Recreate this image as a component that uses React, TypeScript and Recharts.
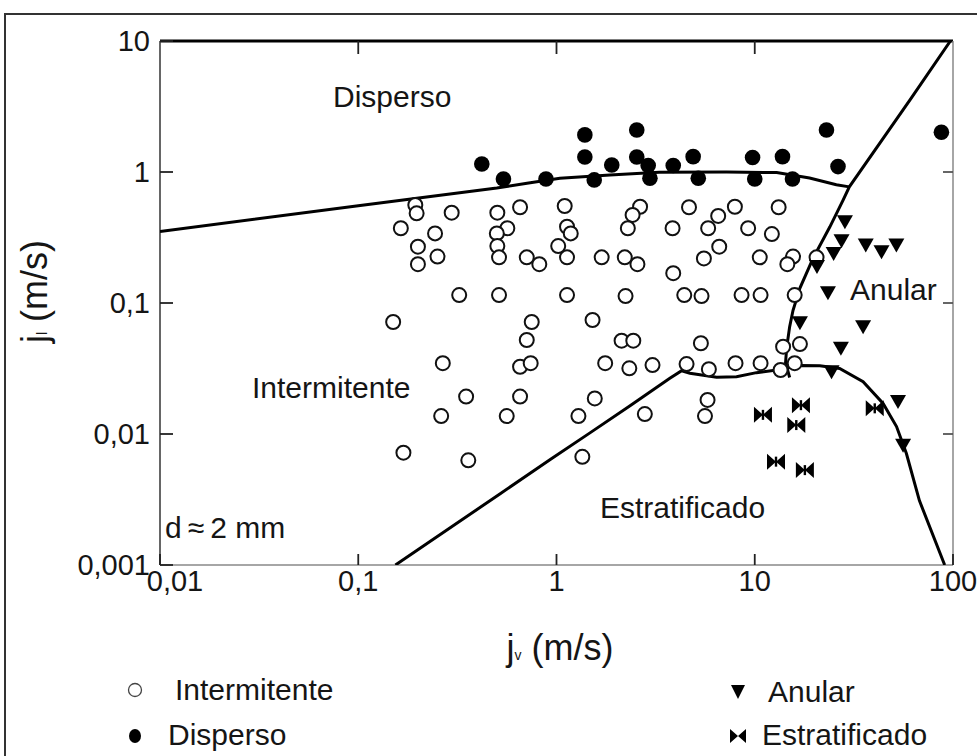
import React from "react";
import { ScatterChart, Scatter, XAxis, YAxis } from "recharts";

type Pt = [number, number];

// j_v (m/s), j_l (m/s)
const xTicks = [0.01, 0.1, 1, 10, 100];
const yTicks = [0.001, 0.01, 0.1, 1, 10];

const intermitente: Pt[] = [
  [0.194, 0.56], [0.197, 0.484], [0.296, 0.489], [0.164, 0.372], [0.244, 0.34],
  [0.2, 0.269], [0.251, 0.226], [0.2, 0.198], [0.503, 0.489], [0.655, 0.538],
  [0.565, 0.372], [0.5, 0.34], [0.503, 0.272], [0.513, 0.223], [0.708, 0.223],
  [0.819, 0.198], [1.1, 0.55], [1.13, 0.382], [1.18, 0.34], [1.02, 0.272],
  [1.13, 0.223], [0.323, 0.115], [0.513, 0.115], [1.13, 0.115], [0.15, 0.0716],
  [0.75, 0.0716], [1.52, 0.0742], [2.64, 0.543], [2.42, 0.47], [2.29, 0.372],
  [1.69, 0.223], [2.21, 0.223], [2.56, 0.198], [3.85, 0.372], [4.66, 0.538],
  [6.54, 0.462], [5.82, 0.372], [7.94, 0.543], [9.26, 0.372], [12.2, 0.336],
  [13.2, 0.538], [6.62, 0.269], [5.54, 0.219], [3.88, 0.169], [10.6, 0.223],
  [15.6, 0.226], [14.6, 0.198], [20.5, 0.223], [2.23, 0.113], [4.41, 0.115],
  [5.39, 0.113], [8.58, 0.115], [10.7, 0.115], [15.9, 0.115], [0.267, 0.0347],
  [0.708, 0.0522], [0.655, 0.0326], [0.741, 0.0347], [0.35, 0.0193], [0.655, 0.0193],
  [0.262, 0.0137], [0.561, 0.0137], [0.169, 0.0072], [0.359, 0.0063], [1.29, 0.0137],
  [1.35, 0.0067], [2.13, 0.0516], [2.44, 0.0516], [1.76, 0.0347], [2.33, 0.0317],
  [3.05, 0.0336], [1.56, 0.0187], [2.79, 0.0142], [5.35, 0.0493], [4.53, 0.0342],
  [5.87, 0.0312], [8.0, 0.0347], [10.7, 0.0347], [13.5, 0.0308], [13.9, 0.0464],
  [16.9, 0.0486], [15.9, 0.0347], [5.78, 0.0182], [5.61, 0.0137],
];

const disperso: Pt[] = [
  [0.42, 1.15], [0.54, 0.885], [0.885, 0.885], [1.39, 1.92], [1.39, 1.3],
  [1.55, 0.87], [1.9, 1.13], [2.54, 2.09], [2.54, 1.3], [2.9, 1.12],
  [2.96, 0.895], [3.88, 1.12], [4.89, 1.31], [5.19, 0.895], [9.75, 1.29],
  [10.0, 0.885], [13.8, 1.31], [15.5, 0.885], [23.0, 2.09], [26.3, 1.1],
  [87.4, 2.01],
];

const anular: Pt[] = [
  [28.5, 0.418], [27.4, 0.299], [36.3, 0.277], [43.6, 0.246], [51.8, 0.277],
  [25.0, 0.239], [20.6, 0.19], [23.4, 0.12], [16.9, 0.0707], [35.2, 0.066],
  [27.2, 0.0451], [24.4, 0.0299], [52.8, 0.0177], [56.0, 0.0082],
];

const estratificado: Pt[] = [
  [11.0, 0.014], [17.1, 0.0166], [16.2, 0.0117], [12.8, 0.00615], [17.9, 0.0053],
  [40.3, 0.0157],
];

// transition boundaries
const upperBoundary: Pt[] = [
  [0.01, 0.352], [0.1, 0.552], [0.5, 0.756], [0.71, 0.82], [1.04, 0.895],
  [1.86, 0.95], [3.3, 0.995], [7.2, 1.0], [12.9, 0.99], [18.9, 0.9],
  [25.8, 0.8], [30, 0.77],
];

const annularBoundary: Pt[] = [
  [97, 10], [60.7, 3.55], [30, 0.77], [27.9, 0.61], [23.9, 0.38], [19.7, 0.22],
  [16.9, 0.13], [15.6, 0.088], [15.0, 0.066], [14.5, 0.046], [14.3, 0.035],
  [15.0, 0.027],
];

const stratifiedBoundary: Pt[] = [
  [0.154, 0.001], [0.52, 0.0035], [0.93, 0.0064], [1.475, 0.0102], [2.35, 0.0164],
  [3.73, 0.0266], [4.28, 0.0304], [4.71, 0.0291], [6.42, 0.0271], [8.09, 0.0274],
  [10.2, 0.0294], [12.9, 0.0308], [16.9, 0.0333], [21.3, 0.0332], [26.8, 0.0316],
  [35.2, 0.0251], [44.4, 0.0171], [51.9, 0.0114], [58.2, 0.0071], [67.7, 0.0031],
  [90.8, 0.001],
];

const toRows = (pts: Pt[]) => pts.map(([jv, jl]) => ({ jv, jl }));

const FONT = "'Liberation Sans', Arial, Helvetica, sans-serif";
const INK = "#151515";
const TICK_FS = 29;
const fmt = (v: number) => String(v).replace(".", ",");

// ticks point inward, so draw them ourselves
const BottomTick = (p: any) => {
  const axisY = p.y - 5;
  const shift = p.payload.value === 0.01 ? 15 : 0; // first label sits right of the corner
  return (
    <g>
      <line x1={p.x} y1={axisY} x2={p.x} y2={axisY - 11} stroke="#222" strokeWidth={1.8} />
      <text x={p.x + shift} y={p.y} dy="0.74em" textAnchor="middle" fontSize={TICK_FS} fontFamily={FONT} fill={INK}>
        {fmt(p.payload.value)}
      </text>
    </g>
  );
};

const LeftTick = (p: any) => {
  const axisX = p.x + 10;
  return (
    <g>
      <line x1={axisX} y1={p.y} x2={axisX + 13} y2={p.y} stroke="#222" strokeWidth={1.8} />
      <text x={p.x} y={p.y} dy="0.36em" textAnchor="end" fontSize={TICK_FS} fontFamily={FONT} fill={INK}>
        {fmt(p.payload.value)}
      </text>
    </g>
  );
};

const TopTick = (p: any) => {
  const axisY = p.y + 2;
  return <line x1={p.x} y1={axisY} x2={p.x} y2={axisY + 13} stroke="#222" strokeWidth={1.8} />;
};

const RightTick = (p: any) => {
  const axisX = p.x - 2;
  return <line x1={axisX} y1={p.y} x2={axisX - 10} y2={p.y} stroke="#555" strokeWidth={1.8} />;
};

const OpenCircle = (p: any) => (
  <circle cx={p.cx} cy={p.cy} r={7} fill="#fff" stroke="#111" strokeWidth={2} />
);
const FilledCircle = (p: any) => <circle cx={p.cx} cy={p.cy} r={7.8} fill="#000" />;
const DownTriangle = (p: any) => (
  <path d={`M${p.cx - 8},${p.cy - 6.5} L${p.cx + 8},${p.cy - 6.5} L${p.cx},${p.cy + 7.5} Z`} fill="#000" />
);
const Bowtie = (p: any) => {
  const { cx, cy } = p;
  return (
    <g fill="#000">
      <path d={`M${cx - 9},${cy - 8} L${cx},${cy} L${cx - 9},${cy + 8} Z M${cx + 9},${cy - 8} L${cx},${cy} L${cx + 9},${cy + 8} Z`} />
      <rect x={cx - 1.2} y={cy - 5} width={2.4} height={10} />
    </g>
  );
};
const NoDot = () => <g />;

function Note({ x, cy, size = 30, children }: { x: number; cy: number; size?: number; children: React.ReactNode }) {
  return (
    <div
      style={{
        position: "absolute",
        left: x,
        top: cy - size * 0.49,
        fontSize: size,
        lineHeight: `${size}px`,
        whiteSpace: "nowrap",
        fontFamily: FONT,
        color: INK,
      }}
    >
      {children}
    </div>
  );
}

const lineStyle = { stroke: "#000", strokeWidth: 3 };

export default function App() {
  return (
    <div
      style={{
        position: "absolute",
        left: 0,
        top: 0,
        width: 977,
        height: 756,
        overflow: "hidden",
        background: "#fff",
      }}
    >
      <div
        style={{
          position: "absolute",
          left: 4,
          top: 13,
          width: 1100,
          height: 900,
          border: "2px solid #333",
        }}
      />
      <div style={{ position: "absolute", left: 0, top: 0 }}>
        <ScatterChart width={977} height={756} margin={{ top: 40, right: 23, bottom: 151, left: 100 }}>
          <XAxis
            xAxisId="b"
            dataKey="jv"
            type="number"
            scale="log"
            domain={[0.01, 100]}
            ticks={xTicks}
            interval={0}
            allowDataOverflow
            height={40}
            tickSize={0}
            tickMargin={5}
            tickLine={false}
            axisLine={{ stroke: "#888", strokeWidth: 1.5 }}
            tick={BottomTick}
          />
          <XAxis
            xAxisId="t"
            orientation="top"
            dataKey="jv"
            type="number"
            scale="log"
            domain={[0.01, 100]}
            ticks={[0.1, 1, 10]}
            interval={0}
            allowDataOverflow
            height={1}
            tickSize={0}
            tickMargin={2}
            tickLine={false}
            axisLine={{ stroke: "#000", strokeWidth: 3 }}
            tick={TopTick}
          />
          <YAxis
            yAxisId="l"
            dataKey="jl"
            type="number"
            scale="log"
            domain={[0.001, 10]}
            ticks={yTicks}
            interval={0}
            allowDataOverflow
            width={60}
            tickSize={0}
            tickMargin={10}
            tickLine={false}
            axisLine={{ stroke: "#333", strokeWidth: 1.5 }}
            tick={LeftTick}
          />
          <YAxis
            yAxisId="r"
            orientation="right"
            dataKey="jl"
            type="number"
            scale="log"
            domain={[0.001, 10]}
            ticks={[0.01, 0.1, 1]}
            interval={0}
            allowDataOverflow
            width={1}
            tickSize={0}
            tickMargin={2}
            tickLine={false}
            axisLine={{ stroke: "#888", strokeWidth: 1.5 }}
            tick={RightTick}
          />

          {/* invisible series so the mirror axes (top / right) get a scale */}
          <Scatter xAxisId="t" yAxisId="r" data={toRows(upperBoundary)} shape={NoDot} legendType="none" isAnimationActive={false} />

          <Scatter xAxisId="b" yAxisId="l" data={toRows(upperBoundary)} fill="#000" line={lineStyle} shape={NoDot} isAnimationActive={false} />
          <Scatter xAxisId="b" yAxisId="l" data={toRows(annularBoundary)} fill="#000" line={lineStyle} shape={NoDot} isAnimationActive={false} />
          <Scatter xAxisId="b" yAxisId="l" data={toRows(stratifiedBoundary)} fill="#000" line={lineStyle} shape={NoDot} isAnimationActive={false} />

          <Scatter xAxisId="b" yAxisId="l" name="Intermitente" data={toRows(intermitente)} shape={OpenCircle} isAnimationActive={false} />
          <Scatter xAxisId="b" yAxisId="l" name="Disperso" data={toRows(disperso)} shape={FilledCircle} isAnimationActive={false} />
          <Scatter xAxisId="b" yAxisId="l" name="Anular" data={toRows(anular)} shape={DownTriangle} isAnimationActive={false} />
          <Scatter xAxisId="b" yAxisId="l" name="Estratificado" data={toRows(estratificado)} shape={Bowtie} isAnimationActive={false} />
        </ScatterChart>
      </div>

      {/* region labels */}
      <Note x={333} cy={97}>Disperso</Note>
      <Note x={850} cy={290}>Anular</Note>
      <Note x={252} cy={388}>Intermitente</Note>
      <Note x={600} cy={508}>Estratificado</Note>
      <Note x={165} cy={528}>d{"\u2009"}≈{"\u2009"}2 mm</Note>

      {/* axis titles */}
      <div
        style={{
          position: "absolute",
          left: 400,
          width: 320,
          top: 630,
          textAlign: "center",
          fontSize: 36,
          lineHeight: "36px",
          fontFamily: FONT,
          color: INK,
        }}
      >
        j<span style={{ fontSize: 14 }}>v</span> (m/s)
      </div>
      <div
        style={{
          position: "absolute",
          left: 38 - 110,
          width: 220,
          top: 288 - 18,
          textAlign: "center",
          fontSize: 36,
          lineHeight: "36px",
          fontFamily: FONT,
          color: INK,
          transform: "rotate(-90deg)",
        }}
      >
        j<span style={{ fontSize: 14 }}>l</span> (m/s)
      </div>

      {/* legend */}
      <svg style={{ position: "absolute", left: 0, top: 0 }} width={977} height={756}>
        <circle cx={135} cy={690} r={6.5} fill="#fff" stroke="#444" strokeWidth={1.3} />
        <ellipse cx={135} cy={736} rx={6} ry={7} fill="#000" />
        <path d="M731,685 L745,685 L738,699 Z" fill="#000" />
        <path d="M730,729 L738,736 L730,743 Z M746,729 L738,736 L746,743 Z" fill="#000" />
      </svg>
      <Note x={175} cy={690}>Intermitente</Note>
      <Note x={168} cy={735}>Disperso</Note>
      <Note x={768} cy={692}>Anular</Note>
      <Note x={762} cy={735}>Estratificado</Note>
    </div>
  );
}
